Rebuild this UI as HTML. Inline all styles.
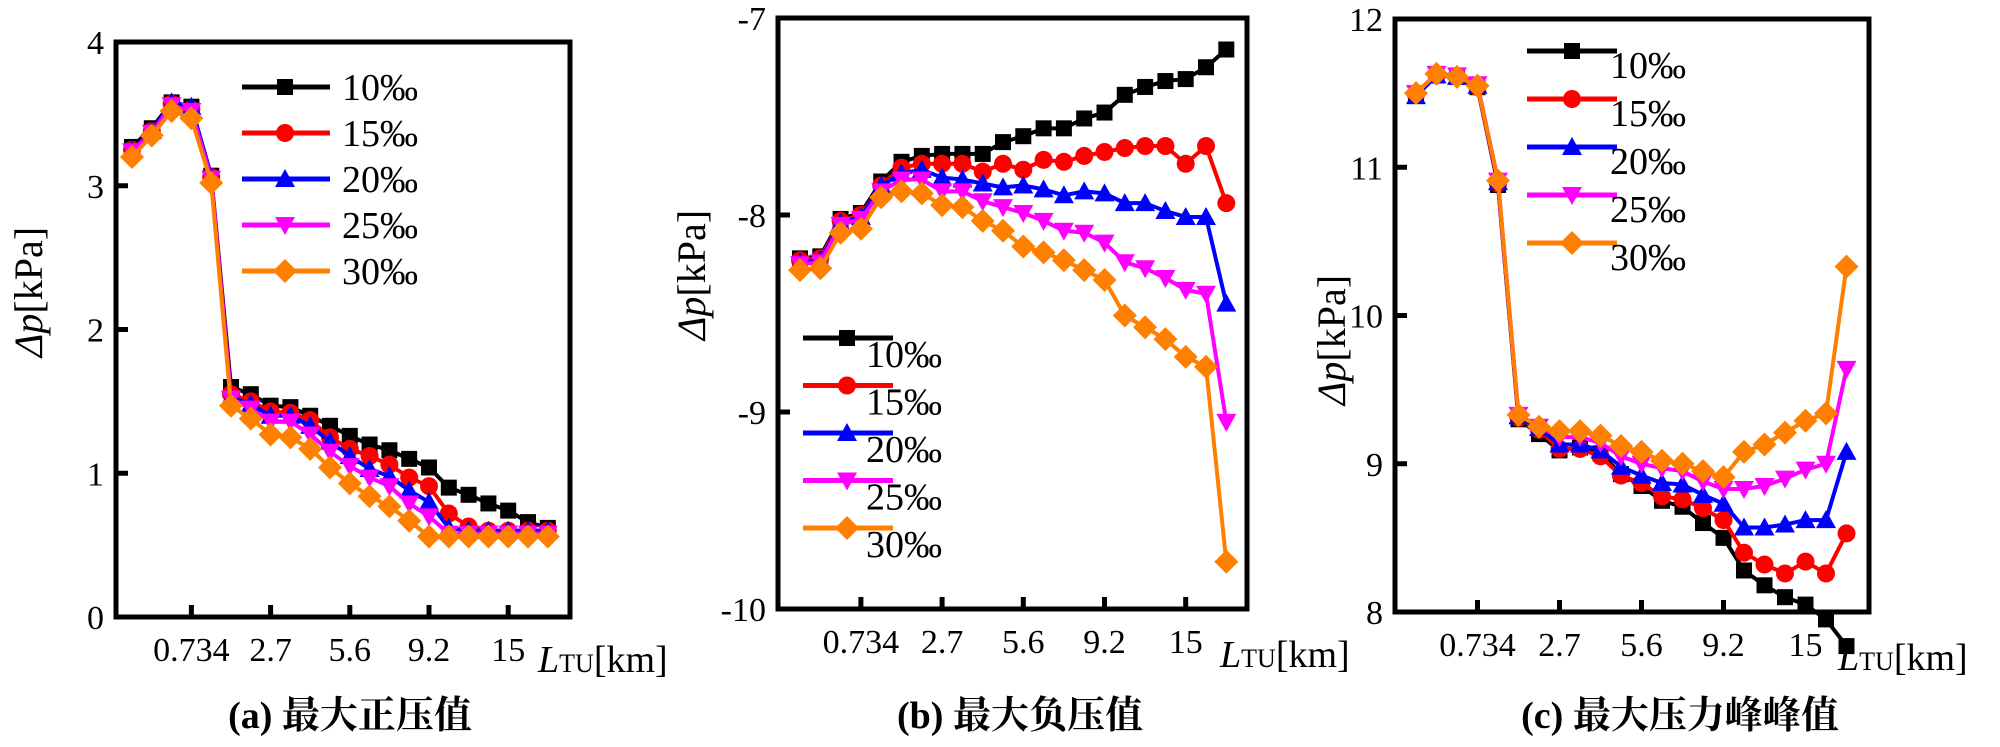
<!DOCTYPE html>
<html><head><meta charset="utf-8">
<style>
html,body{margin:0;padding:0;background:#fff;}
svg, svg text{font-family:"Liberation Serif","Times New Roman",Times,"Noto Serif CJK SC",serif;}
</style></head>
<body>
<svg id="chart" width="2000" height="742" viewBox="0 0 2000 742" xmlns="http://www.w3.org/2000/svg"></svg>
<script>
const seriesNames = ["10‰","15‰","20‰","25‰","30‰"];
const xTickLabels = ["0.734","2.7","5.6","9.2","15"];
const xTickIndex = [3,7,11,15,19];
const captions = ["(a)  最大正压值","(b)  最大负压值","(c)  最大压力峰峰值"];

const aS10 = [3.27,3.40,3.58,3.55,3.07,1.60,1.55,1.47,1.46,1.40,1.33,1.26,1.20,1.16,1.10,1.04,0.90,0.85,0.79,0.74,0.66,0.62];
const aS15 = [3.25,3.38,3.57,3.53,3.06,1.55,1.50,1.43,1.42,1.37,1.25,1.17,1.12,1.06,0.97,0.91,0.72,0.63,0.60,0.60,0.60,0.60];
const aS20 = [3.25,3.38,3.58,3.55,3.06,1.53,1.48,1.40,1.40,1.33,1.22,1.12,1.03,0.98,0.88,0.80,0.62,0.60,0.60,0.60,0.60,0.60];
const aS25 = [3.24,3.37,3.56,3.52,3.05,1.52,1.45,1.36,1.36,1.27,1.15,1.05,0.97,0.91,0.79,0.70,0.58,0.58,0.58,0.58,0.58,0.58];
const aS30 = [3.20,3.35,3.52,3.47,3.02,1.47,1.38,1.27,1.25,1.17,1.04,0.93,0.84,0.77,0.67,0.56,0.56,0.56,0.56,0.56,0.56,0.56];
const aYTicks = [0,1,2,3,4];

const bS10 = [-8.22,-8.21,-8.02,-7.99,-7.83,-7.73,-7.70,-7.69,-7.69,-7.69,-7.63,-7.60,-7.56,-7.56,-7.51,-7.48,-7.39,-7.35,-7.32,-7.31,-7.25,-7.16];
const bS15 = [-8.23,-8.22,-8.03,-8.00,-7.85,-7.76,-7.74,-7.74,-7.74,-7.78,-7.74,-7.77,-7.72,-7.73,-7.70,-7.68,-7.66,-7.65,-7.65,-7.74,-7.65,-7.94];
const bS20 = [-8.24,-8.23,-8.04,-8.01,-7.85,-7.79,-7.77,-7.81,-7.82,-7.84,-7.86,-7.85,-7.87,-7.90,-7.88,-7.89,-7.94,-7.94,-7.98,-8.01,-8.01,-8.45];
const bS25 = [-8.25,-8.24,-8.05,-8.02,-7.88,-7.82,-7.82,-7.88,-7.88,-7.93,-7.96,-7.99,-8.03,-8.08,-8.09,-8.14,-8.24,-8.27,-8.32,-8.38,-8.40,-9.05];
const bS30 = [-8.28,-8.27,-8.09,-8.07,-7.91,-7.88,-7.89,-7.95,-7.96,-8.03,-8.08,-8.16,-8.19,-8.23,-8.28,-8.33,-8.51,-8.57,-8.63,-8.72,-8.77,-9.76];
const bYTicks = [-10,-9,-8,-7];

const cS10 = [11.48,11.62,11.61,11.54,10.88,9.30,9.20,9.09,9.11,9.07,8.93,8.85,8.75,8.71,8.60,8.50,8.28,8.18,8.10,8.05,7.95,7.77];
const cS15 = [11.49,11.62,11.61,11.54,10.89,9.31,9.23,9.10,9.10,9.05,8.92,8.87,8.78,8.76,8.70,8.62,8.40,8.32,8.26,8.34,8.26,8.53];
const cS20 = [11.48,11.62,11.61,11.55,10.90,9.32,9.24,9.13,9.13,9.09,8.98,8.92,8.87,8.86,8.79,8.73,8.57,8.57,8.59,8.62,8.62,9.08];
const cS25 = [11.50,11.63,11.62,11.56,10.91,9.33,9.25,9.18,9.18,9.14,9.05,9.00,8.97,8.95,8.88,8.83,8.83,8.85,8.90,8.96,9.00,9.64];
const cS30 = [11.50,11.63,11.61,11.55,10.91,9.33,9.25,9.22,9.22,9.19,9.12,9.08,9.02,9.00,8.95,8.91,9.08,9.13,9.21,9.29,9.34,10.33];
const cYTicks = [8,9,10,11,12];

const colors = ["#000000","#ff0000","#0000ff","#ff00ff","#ff8000"];
const shapes = ["square","circle","up","down","diamond"];
const NS = "http://www.w3.org/2000/svg";
const svg = document.getElementById("chart");

function mk(tag, attrs, parent){
  const e = document.createElementNS(NS, tag);
  for (const k in attrs) e.setAttribute(k, attrs[k]);
  (parent||svg).appendChild(e);
  return e;
}
function marker(shape, cx, cy, color, g){
  let e;
  if (shape==="square") e = mk("rect",{x:cx-8,y:cy-8,width:16,height:16,fill:color},g);
  else if (shape==="circle") e = mk("circle",{cx:cx,cy:cy,r:9,fill:color},g);
  else if (shape==="up") e = mk("polygon",{points:`${cx},${cy-10} ${cx-10},${cy+8} ${cx+10},${cy+8}`,fill:color},g);
  else if (shape==="down") e = mk("polygon",{points:`${cx},${cy+10} ${cx-10},${cy-8} ${cx+10},${cy-8}`,fill:color},g);
  else e = mk("polygon",{points:`${cx},${cy-12} ${cx+12},${cy} ${cx},${cy+12} ${cx-12},${cy}`,fill:color},g);
  return e;
}

const panels = [
  {series:[aS10,aS15,aS20,aS25,aS30], yTicks:aYTicks, L:116,R:570,T:42,B:617, x0:132,dx:19.8,
   leg:{x1:242,x2:330,mx:285,tx:342,y0:87,dy:46,tdy:0}, ytitle:{x:30,y:292}, xl:{x:538,y:672}, cap:{x:350,y:728}},
  {series:[bS10,bS15,bS20,bS25,bS30], yTicks:bYTicks, L:778,R:1247,T:18,B:609, x0:800,dx:20.3,
   leg:{x1:803,x2:893,mx:847,tx:866,y0:338,dy:47.5,tdy:16}, ytitle:{x:693,y:275}, xl:{x:1220,y:667}, cap:{x:1020,y:728}},
  {series:[cS10,cS15,cS20,cS25,cS30], yTicks:cYTicks, L:1395,R:1869,T:19,B:612, x0:1416,dx:20.5,
   leg:{x1:1527,x2:1617,mx:1572,tx:1610,y0:51,dy:48,tdy:14}, ytitle:{x:1333,y:340}, xl:{x:1838,y:670}, cap:{x:1680,y:728}}
];

panels.forEach((p, pi) => {
  const g = mk("g",{});
  
  
  const ymin = p.yTicks[0], ymax = p.yTicks[p.yTicks.length-1];
  const ys = v => p.B - (v - ymin) / (ymax - ymin) * (p.B - p.T);
  const xs = i => p.x0 + i * p.dx;

  p.series.forEach((vals, si) => {
    const sg = mk("g",{},g);
    
    
    const pts = vals.map((v,i)=>xs(i)+","+ys(v)).join(" ");
    mk("polyline",{points:pts,fill:"none",stroke:colors[si],"stroke-width":4,"stroke-linejoin":"round"},sg);
    vals.forEach((v,i)=>{
      const m = marker(shapes[si], xs(i), ys(v), colors[si], sg);
      
      
    });
  });

  const box = mk("rect",{x:p.L,y:p.T,width:p.R-p.L,height:p.B-p.T,fill:"none",stroke:"#000","stroke-width":5},g);
  
  

  p.yTicks.forEach(t => {
    const y = ys(t);
    mk("line",{x1:p.L,x2:p.L+12,y1:y,y2:y,stroke:"#000","stroke-width":5},g);
    const tx = mk("text",{x:p.L-12,y:y+12,"font-size":34,"text-anchor":"end"},g);
    tx.textContent = t;
    
    
  });
  xTickIndex.forEach((ti, k) => {
    const x = xs(ti);
    mk("line",{x1:x,x2:x,y1:p.B,y2:p.B-12,stroke:"#000","stroke-width":5},g);
    const tx = mk("text",{x:x,y:p.B+44,"font-size":34,"text-anchor":"middle"},g);
    tx.textContent = xTickLabels[k];
    
    
  });

  const lg = mk("g",{},g);
  
  
  seriesNames.forEach((nm, si) => {
    const y = p.leg.y0 + si * p.leg.dy;
    const eg = mk("g",{},lg);
    
    
    mk("line",{x1:p.leg.x1,x2:p.leg.x2,y1:y,y2:y,stroke:colors[si],"stroke-width":5},eg);
    marker(shapes[si], p.leg.mx, y, colors[si], eg);
    const tx = mk("text",{x:p.leg.tx,y:y+p.leg.tdy+13,"font-size":38},eg);
    tx.textContent = nm;
  });

  const yt = mk("text",{x:0,y:0,"font-size":40,"text-anchor":"middle",transform:`translate(${p.ytitle.x + 12},${p.ytitle.y}) rotate(-90)`},g);
  
  
  yt.innerHTML = '<tspan font-style="italic">Δp</tspan>[kPa]';

  const xt = mk("text",{x:p.xl.x,y:p.xl.y,"font-size":38},g);
  
  
  xt.innerHTML = '<tspan font-style="italic">L</tspan><tspan font-size="26">TU</tspan>[km]';

  const cp = mk("text",{x:p.cap.x,y:p.cap.y,"font-size":38,"font-weight":"bold","text-anchor":"middle","xml:space":"preserve"},g);
  
  
  cp.textContent = captions[pi];
});
</script>
</body></html>
